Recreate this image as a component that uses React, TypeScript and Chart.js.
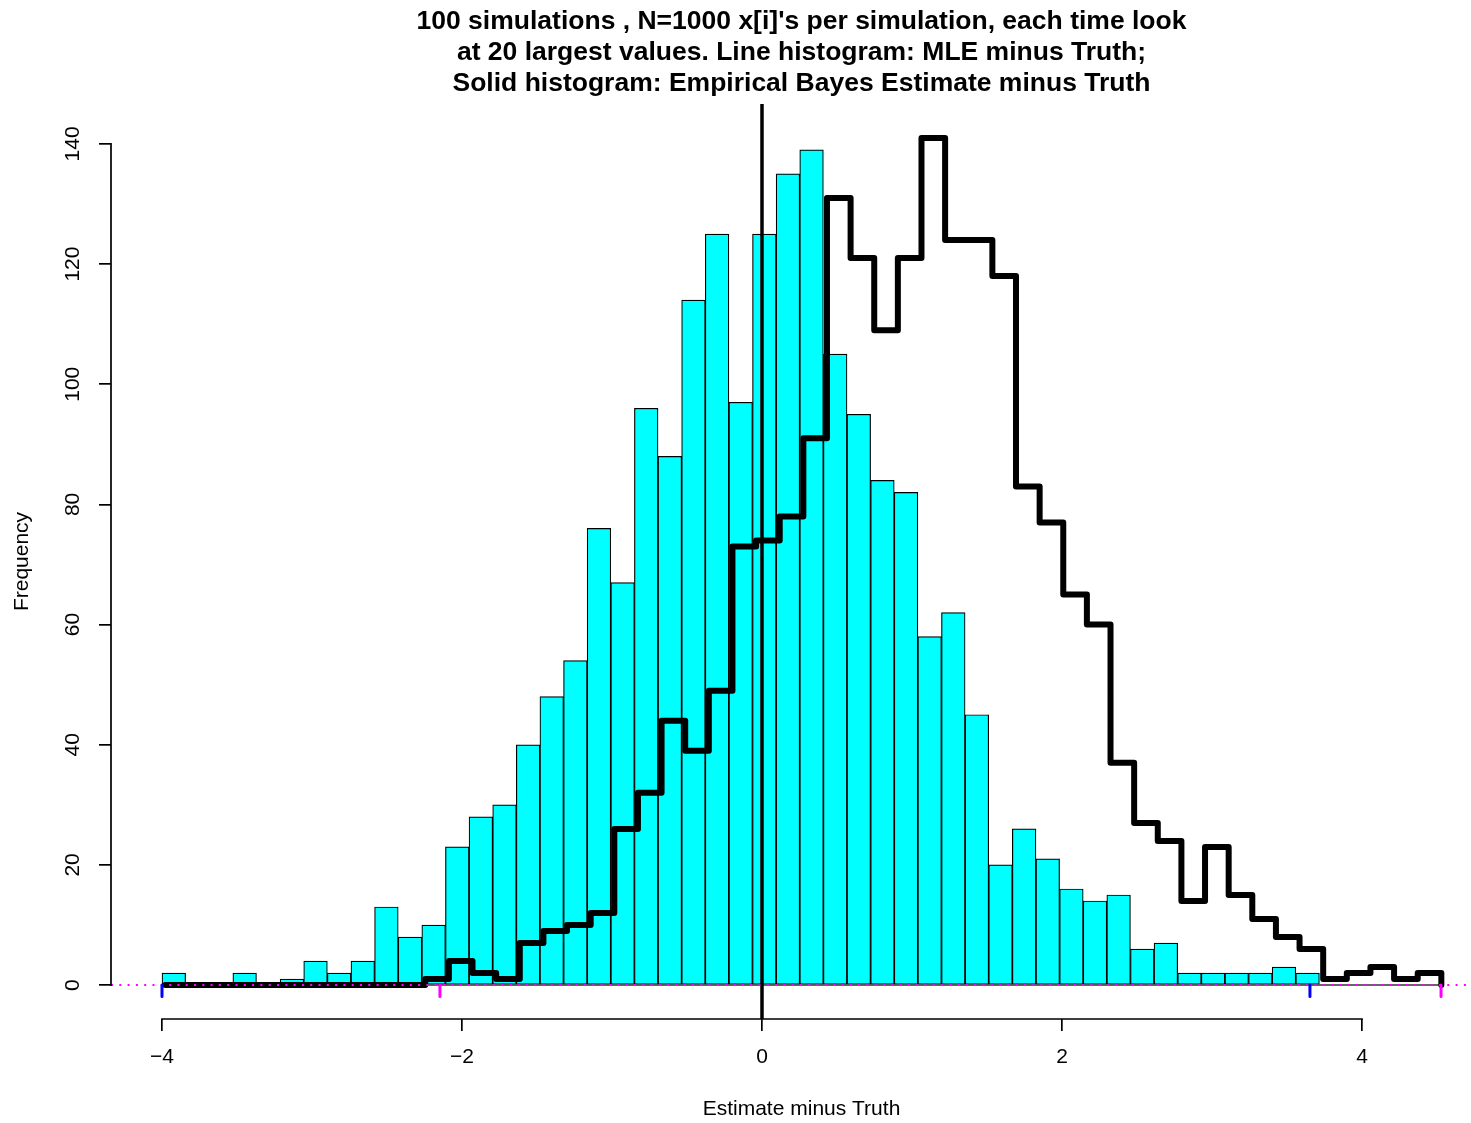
import React, { useEffect, useRef } from "react";
import { Chart, registerables } from "chart.js";

Chart.register(...registerables);

// ---- text ----
const TITLE_LINES = [
  "100 simulations , N=1000 x[i]'s per simulation, each time look",
  "at 20 largest values. Line histogram: MLE minus Truth;",
  "Solid histogram: Empirical Bayes Estimate minus Truth",
];
const X_LABEL = "Estimate minus Truth";
const Y_LABEL = "Frequency";

// ---- ticks ----
const X_TICKS = [-4, -2, 0, 2, 4];
const Y_TICKS = [0, 20, 40, 60, 80, 100, 120, 140];

// ---- solid (cyan) histogram: Empirical Bayes estimate minus truth ----
const EB_BREAK_START = -4.0;
const EB_BIN_WIDTH = 0.15747;
const EB_COUNTS = [
  2, 0, 0, 2, 0, 1, 4, 2, 4, 13, 8, 10, 23, 28, 30, 40, 48, 54, 76, 67, 96, 88,
  114, 125, 97, 125, 135, 139, 105, 95, 84, 82, 58, 62, 45, 20, 26, 21, 16, 14,
  15, 6, 7, 2, 2, 2, 2, 3, 2,
];

// ---- line histogram: MLE minus truth ----
const MLE_BREAK_START = -3.9777;
const MLE_BIN_WIDTH = 0.15753;
const MLE_COUNTS = [
  0, 0, 0, 0, 0, 0, 0, 0, 0, 0, 0, 1, 4, 2, 1, 7, 9, 10, 12, 26, 32, 44, 39, 49,
  73, 74, 78, 91, 131, 121, 109, 121, 141, 124, 124, 118, 83, 77, 65, 60, 37, 27,
  24, 14, 23, 15, 11, 8, 6, 1, 2, 3, 1, 2,
];

// ---- reference lines / range marks ----
const VLINE_X = [0];
const HLINE_Y = [0];
const EB_RANGE = [-4.0, 3.653];
const MLE_RANGE = [-2.147, 4.527];

// ---- axis limits (R-style 4% padding) ----
const X_MIN = -4.34;
const X_MAX = 4.8667;
const Y_MIN = -5.64;
const Y_MAX = 146.64;
const RUG_LEN = 1.9;

// The R plot region runs past the right edge of the 1471px picture.
const CANVAS_W = 1492;
const VIEW_W = 1471;
const VIEW_H = 1123;

const FONT = '"Liberation Sans", Arial, Helvetica, sans-serif';
const CYAN = "#00FFFF";
const MAGENTA = "#FF00FF";
const BLUE = "#0000FF";

const rAxesPlugin = {
  id: "rAxes",
  afterDraw(chart: any) {
    const { ctx } = chart;
    const x = chart.scales.x;
    const y = chart.scales.y;
    ctx.save();
    ctx.strokeStyle = "#000";
    ctx.lineWidth = 1.7;
    ctx.lineCap = "butt";
    ctx.beginPath();
    ctx.moveTo(x.getPixelForValue(X_TICKS[0]) - 0.85, x.top);
    ctx.lineTo(x.getPixelForValue(X_TICKS[X_TICKS.length - 1]) + 0.85, x.top);
    ctx.moveTo(y.right, y.getPixelForValue(Y_TICKS[0]) + 0.85);
    ctx.lineTo(y.right, y.getPixelForValue(Y_TICKS[Y_TICKS.length - 1]) - 0.85);
    ctx.stroke();
    ctx.restore();
  },
};

function rugPoints(range: number[]) {
  const pts: any[] = [];
  range.forEach((v, i) => {
    if (i > 0) pts.push({ x: v, y: null });
    pts.push({ x: v, y: 0 });
    pts.push({ x: v, y: -RUG_LEN });
  });
  return pts;
}

export default function App() {
  const ref = useRef<HTMLCanvasElement>(null);

  useEffect(() => {
    const canvas = ref.current;
    if (!canvas) return;

    const ebBars = EB_COUNTS.map((c, k) => ({
      x: EB_BREAK_START + (k + 0.5) * EB_BIN_WIDTH,
      y: c,
    }));
    const mleStep = MLE_COUNTS.map((c, k) => ({
      x: MLE_BREAK_START + k * MLE_BIN_WIDTH,
      y: c,
    }));
    const mleEnd = MLE_BREAK_START + MLE_COUNTS.length * MLE_BIN_WIDTH;
    mleStep.push({ x: mleEnd, y: 0 });

    const lineCommon = {
      type: "line" as const,
      pointRadius: 0,
      pointHoverRadius: 0,
      tension: 0,
      fill: false,
    };

    const chart = new Chart(canvas, {
      type: "bar",
      data: {
        datasets: [
          {
            ...lineCommon,
            label: "EB range",
            data: rugPoints(EB_RANGE),
            borderColor: BLUE,
            borderWidth: 3,
            borderCapStyle: "round",
            spanGaps: false,
            order: 0,
            clip: false,
          } as any,
          {
            ...lineCommon,
            label: "MLE range",
            data: rugPoints(MLE_RANGE),
            borderColor: MAGENTA,
            borderWidth: 3,
            borderCapStyle: "round",
            spanGaps: false,
            order: 0,
            clip: false,
          } as any,
          {
            ...lineCommon,
            label: "h=0",
            data: [
              { x: X_MIN, y: HLINE_Y[0] },
              { x: X_MAX, y: HLINE_Y[0] },
            ],
            borderColor: MAGENTA,
            borderWidth: 2,
            borderDash: [2, 6.3],
            borderCapStyle: "butt",
            order: 1,
          } as any,
          {
            ...lineCommon,
            label: "v=0",
            data: [
              { x: VLINE_X[0], y: Y_MIN },
              { x: VLINE_X[0], y: Y_MAX },
            ],
            borderColor: "#000",
            borderWidth: 3.5,
            order: 2,
          } as any,
          {
            ...lineCommon,
            label: "MLE minus Truth",
            data: mleStep,
            stepped: true,
            borderColor: "#000",
            borderWidth: 6,
            borderCapStyle: "round",
            borderJoinStyle: "round",
            order: 3,
          } as any,
          {
            ...lineCommon,
            label: "base",
            data: [
              { x: MLE_BREAK_START, y: 0 },
              { x: mleEnd, y: 0 },
            ],
            borderColor: "#333",
            borderWidth: 1.5,
            order: 4,
          } as any,
          {
            type: "bar",
            label: "Empirical Bayes Estimate minus Truth",
            data: ebBars,
            backgroundColor: CYAN,
            borderColor: "#000",
            borderWidth: 1.2,
            borderSkipped: false,
            barPercentage: 1,
            categoryPercentage: 1,
            order: 10,
          } as any,
        ],
      },
      options: {
        responsive: false,
        devicePixelRatio: 1,
        animation: false,
        events: [],
        layout: { padding: 0 },
        plugins: {
          legend: { display: false },
          tooltip: { enabled: false },
          title: {
            display: true,
            text: TITLE_LINES,
            fullSize: false,
            color: "#000",
            font: { family: FONT, size: 26.5, weight: "bold", lineHeight: 31 / 26.5 },
            padding: { top: 6.5, bottom: 4.5 },
          },
        },
        scales: {
          x: {
            type: "linear",
            position: "bottom",
            min: X_MIN,
            max: X_MAX,
            offset: false,
            afterBuildTicks: (s: any) => {
              s.ticks = X_TICKS.map((v) => ({ value: v }));
            },
            afterFit: (s: any) => {
              s.height = 104;
            },
            grid: {
              display: true,
              drawOnChartArea: false,
              drawTicks: true,
              tickLength: 12,
              color: "#000",
              lineWidth: 1.7,
              offset: false,
            },
            border: { display: false },
            ticks: {
              color: "#000",
              font: { family: FONT, size: 21 },
              padding: 13.4,
              maxRotation: 0,
              minRotation: 0,
              autoSkip: false,
              callback: (v: any) => {
                const n = Number(v);
                return n < 0 ? "\u2212" + Math.abs(n) : String(n);
              },
            },
            title: {
              display: true,
              text: X_LABEL,
              color: "#000",
              font: { family: FONT, size: 21, lineHeight: 1.2 },
              padding: { top: 0, bottom: 1.4 },
            },
          },
          y: {
            type: "linear",
            position: "left",
            min: Y_MIN,
            max: Y_MAX,
            afterBuildTicks: (s: any) => {
              s.ticks = Y_TICKS.map((v) => ({ value: v }));
            },
            afterFit: (s: any) => {
              s.width = 111;
            },
            grid: {
              display: true,
              drawOnChartArea: false,
              drawTicks: true,
              tickLength: 12,
              color: "#000",
              lineWidth: 1.7,
            },
            border: { display: false },
            ticks: {
              color: "#000",
              font: { family: FONT, size: 21 },
              padding: 8.5,
              minRotation: 90,
              maxRotation: 90,
              crossAlign: "center",
              autoSkip: false,
              callback: (v: any) => String(v),
            },
            title: {
              display: true,
              text: Y_LABEL,
              color: "#000",
              font: { family: FONT, size: 21, lineHeight: 1.2 },
              padding: { top: 9.4, bottom: 0 },
            },
          },
        },
      } as any,
      plugins: [rAxesPlugin],
    });

    return () => chart.destroy();
  }, []);

  return (
    <div
      style={{
        position: "absolute",
        left: 0,
        top: 0,
        width: VIEW_W,
        height: VIEW_H,
        background: "#fff",
        overflow: "hidden",
      }}
    >
      <canvas
        ref={ref}
        width={CANVAS_W}
        height={VIEW_H}
        style={{ display: "block", width: CANVAS_W, height: VIEW_H }}
      />
    </div>
  );
}
